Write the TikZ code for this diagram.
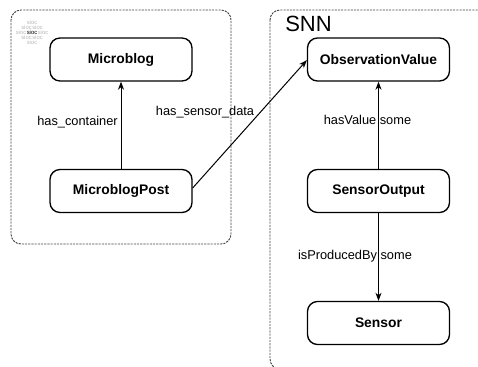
\documentclass[tikz,border=0pt]{standalone}
\usepackage{fontspec}
\setmainfont{Liberation Sans}
\usetikzlibrary{arrows.meta,calc}
\definecolor{dashgrey}{HTML}{444444}
\definecolor{logogrey}{HTML}{B8B8B8}
\tikzset{
  cls/.style={draw=black, line width=1pt, rounded corners=7.5pt, minimum width=106.5pt, minimum height=32.25pt, inner sep=0pt, font=\fontsize{10.4}{12}\selectfont\bfseries},
  container/.style={draw=dashgrey, line width=0.7pt, dash pattern=on 1.6pt off 0.8pt, rounded corners=7.5pt},
  rel/.style={draw=black, line width=0.75pt, -{Stealth[length=6pt,width=4.5pt,inset=1.8pt]}},
  lbl/.style={inner sep=0pt, font=\fontsize{9.6}{11}\selectfont},
  logo/.style={inner sep=0pt, text=logogrey, font=\fontsize{4.4}{5}\selectfont},
}
\begin{document}
\begin{tikzpicture}[x=0.75pt,y=-0.75pt]
\useasboundingbox (0,0) rectangle (478,367);
% containers
\draw[container] (11,10) rectangle (231,244);
\draw[container] (270,10) rectangle (500,369);
\node[anchor=base west, inner sep=0pt, font=\fontsize{16.5}{18}\selectfont] (snn) at (285,32) {SNN};
% logo
\node[logo] (l1) at (32,22.5) {sioc};
\node[logo] (l2) at (26.5,27) {sioc};
\node[logo] (l3) at (37.5,27) {sioc};
\node[logo] (l4) at (21,32) {sioc};
\node[logo, text=black] (l5) at (32,32) {sioc};
\node[logo] (l6) at (43,32) {sioc};
\node[logo] (l7) at (26.5,37) {sioc};
\node[logo] (l8) at (37.5,37) {sioc};
\node[logo] (l9) at (32,42) {sioc};
% classes
\node[cls] (mb) at (121,59.5) {Microblog};
\node[cls] (mp) at (121,191) {MicroblogPost};
\node[cls] (ov) at (378.5,59.5) {ObservationValue};
\node[cls] (so) at (378.5,191) {SensorOutput};
\node[cls] (se) at (378.5,323) {Sensor};
% relations
\draw[rel] (mp.north) -- (mb.south);
\draw[rel] ([yshift=2.25pt]mp.east) -- ([yshift=-0.5pt]ov.west);
\draw[rel] (so.north) -- (ov.south);
\draw[rel] (so.south) -- (se.north);
% labels
\node[lbl, anchor=east] (l_hc) at ($(mp.north)!0.5!(mb.south)+(-3,-3)$) {has\_container};
\node[lbl] (l_hsd) at (205,112) {has\_sensor\_data};
\node[lbl] (l_hv) at ($(so.north)!0.5!(ov.south)+(-11,-5)$) {hasValue some};
\node[lbl] (l_ipb) at ($(so.south)!0.5!(se.north)+(-23.5,-1)$) {isProducedBy some};
\end{tikzpicture}
\end{document}
